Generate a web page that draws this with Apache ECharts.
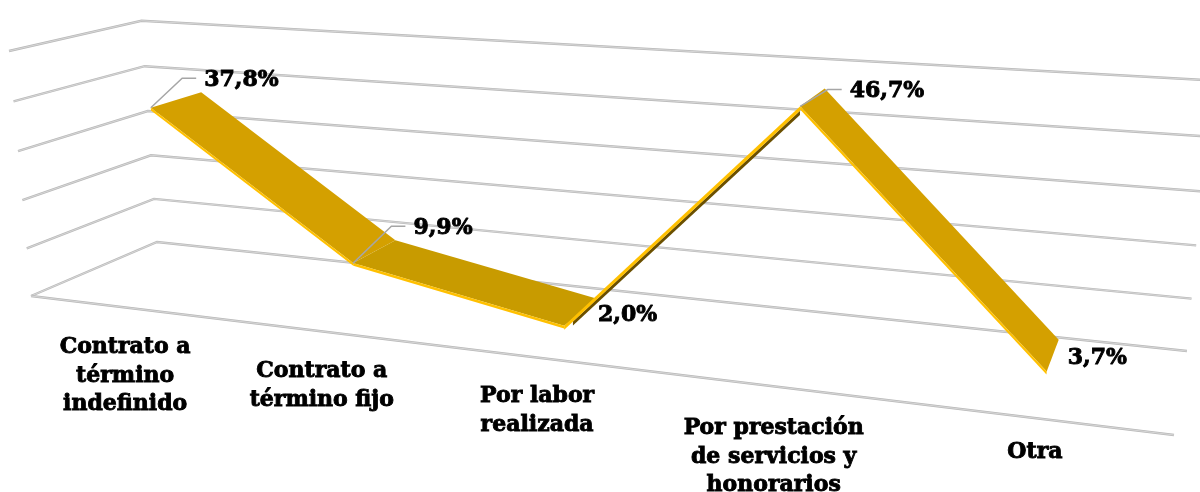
<!DOCTYPE html>
<html>
<head>
<meta charset="utf-8">
<title>Tipo de contrato</title>
<script src="https://cdn.jsdelivr.net/npm/echarts@6/dist/echarts.min.js"></script>
<style>
    html, body { margin: 0; padding: 0; background: #fff; }
    #chart { width: 1200px; height: 492px; overflow: hidden; }
</style>
</head>
<body>
<div id="chart"></div>
<script>
// datos
var categories = ['Contrato a\ntérmino\nindefinido', 'Contrato a\ntérmino fijo', 'Por labor\nrealizada', 'Por prestación\nde servicios y\nhonorarios', 'Otra'];
var values = [37.8, 9.9, 2.0, 46.7, 3.7];
var valueLabels = ['37,8%', '9,9%', '2,0%', '46,7%', '3,7%'];
var yTicks = [0, 10, 20, 30, 40, 50];

// perspectiva: esquinas de la caja en pixeles y pesos de cada eje
var O = [31, 296], E = [1174, 435], C = [9, 51], B = [157, 242];
var wu = -0.211, wv = -0.036, wd = 0.1124;
var ribbonFront = 0.3, ribbonBack = 0.71, ribbonDrop = 0.011, ribbonShift = 0.002;

// estilos por punto / segmento
var segColors = ['#D4A000', '#C89B00', '#6B5000', '#D4A000'];
var labelOffset = [[3, -12], [18, -12], [0, 16], [25, 3], [9, 19]];
var hasLeader = [true, true, false, true, false];
var catGap = [26, 26, 25, 28, 20];
var fontFam = '"DejaVu Serif", serif';

function project(u, v, d) {
    var w = 1 + wu * u + wv * v + wd * d;
    var x = O[0] + ((1 + wu) * E[0] - O[0]) * u + ((1 + wv) * C[0] - O[0]) * v + ((1 + wd) * B[0] - O[0]) * d;
    var y = O[1] + ((1 + wu) * E[1] - O[1]) * u + ((1 + wv) * C[1] - O[1]) * v + ((1 + wd) * B[1] - O[1]) * d;
    return [x / w, y / w];
}

// pasa valor de los ejes de echarts a coordenadas u,v de la caja
function toBox(api, params, i, val) {
    var p = api.coord([i, val]);
    var r = params.coordSys;
    return [(p[0] - r.x) / r.width, (r.y + r.height - p[1]) / r.height];
}

function line(points, color, width) {
    return {
        type: 'polyline',
        shape: { points: points },
        style: { fill: null, stroke: color, lineWidth: width, lineJoin: 'miter' }
    };
}

function gridLine(points) {
    // linea doble: borde gris con el centro mas claro
    return [line(points, '#B9B9B9', 2.4), line(points, '#E2E2E2', 0.7)];
}

function renderGrid(params, api) {
    var b = toBox(api, params, 0, yTicks[params.dataIndex]);
    var children = gridLine([project(0, b[1], 0), project(0, b[1], 1), project(1, b[1], 1)]);
    if (yTicks[params.dataIndex] === 0) {
        children = children.concat(gridLine([project(0, 0, 0), project(1, 0, 0)]));
    }
    return { type: 'group', children: children };
}

function renderRibbon(params, api) {
    var i = params.dataIndex;
    if (i >= values.length - 1) return;
    var a = toBox(api, params, i, values[i]);
    var n = toBox(api, params, i + 1, values[i + 1]);
    var au = a[0] + ribbonShift, nu = n[0] + ribbonShift;
    var drop = i === 2 ? ribbonDrop * 1.4 : ribbonDrop;
    var children = [];
    if (i === 2) {
        // este tramo se ve por debajo
        var su = au + (nu - au) * 0.04, sv = a[1] + (n[1] - a[1]) * 0.04;
        children.push({
            type: 'polygon',
            shape: { points: [project(su, sv - drop, ribbonFront), project(nu, n[1] - drop, ribbonFront), project(nu, n[1] - drop * 2, ribbonFront), project(su, sv - drop * 2, ribbonFront)] },
            style: { fill: segColors[i] }
        });
    } else {
        children.push({
            type: 'polygon',
            shape: { points: [project(au, a[1], ribbonFront), project(nu, n[1], ribbonFront), project(nu, n[1], ribbonBack), project(au, a[1], ribbonBack)] },
            style: { fill: segColors[i] }
        });
    }
    children.push({
        type: 'polygon',
        shape: { points: [project(au, a[1], ribbonFront), project(nu, n[1], ribbonFront), project(nu, n[1] - drop, ribbonFront), project(au, a[1] - drop, ribbonFront)] },
        style: { fill: '#FFC000' }
    });
    return { type: 'group', children: children };
}

function renderLabels(params, api) {
    var i = params.dataIndex;
    var a = toBox(api, params, i, values[i]);
    var front = project(a[0] + ribbonShift, a[1], ribbonFront);
    var back = project(a[0] + ribbonShift, a[1], ribbonBack);
    var lx = back[0] + labelOffset[i][0];
    var ly = back[1] + labelOffset[i][1];
    var children = [];
    if (hasLeader[i]) {
        children.push(line([front, [lx - 22, ly - 2], [lx - 8, ly - 2]], '#A6A6A6', 1.5));
    }
    children.push({
        type: 'text',
        style: {
            x: lx, y: ly, text: valueLabels[i], align: 'left', verticalAlign: 'middle',
            fontFamily: fontFam, fontWeight: 'bold', fontSize: 22, fill: '#000',
            stroke: '#000', lineWidth: 0.9
        }
    });
    var base = project(a[0], 0, 0);
    children.push({
        type: 'text',
        style: {
            x: base[0] + 2, y: base[1] + catGap[i], text: categories[i], align: 'center', verticalAlign: 'top',
            fontFamily: fontFam, fontWeight: 'bold', fontSize: 22, lineHeight: 28.5, fill: '#000',
            stroke: '#000', lineWidth: 0.9
        }
    });
    return { type: 'group', children: children };
}

var chart = echarts.init(document.getElementById('chart'));
chart.setOption({
    animation: false,
    grid: { left: 0, right: 0, top: 0, bottom: 0 },
    xAxis: { type: 'category', data: categories, show: false },
    yAxis: { type: 'value', min: 0, max: 50, interval: 10, show: false },
    series: [
        { type: 'custom', clip: false, silent: true, renderItem: renderGrid, data: yTicks.map(function (t) { return [0, t]; }), encode: { x: 0, y: 1 }, z: 1 },
        { type: 'custom', clip: false, silent: true, renderItem: renderRibbon, data: values.map(function (v, i) { return [i, v]; }), encode: { x: 0, y: 1 }, z: 2 },
        { type: 'custom', clip: false, silent: true, renderItem: renderLabels, data: values.map(function (v, i) { return [i, v]; }), encode: { x: 0, y: 1 }, z: 3 }
    ]
});
</script>
</body>
</html>
